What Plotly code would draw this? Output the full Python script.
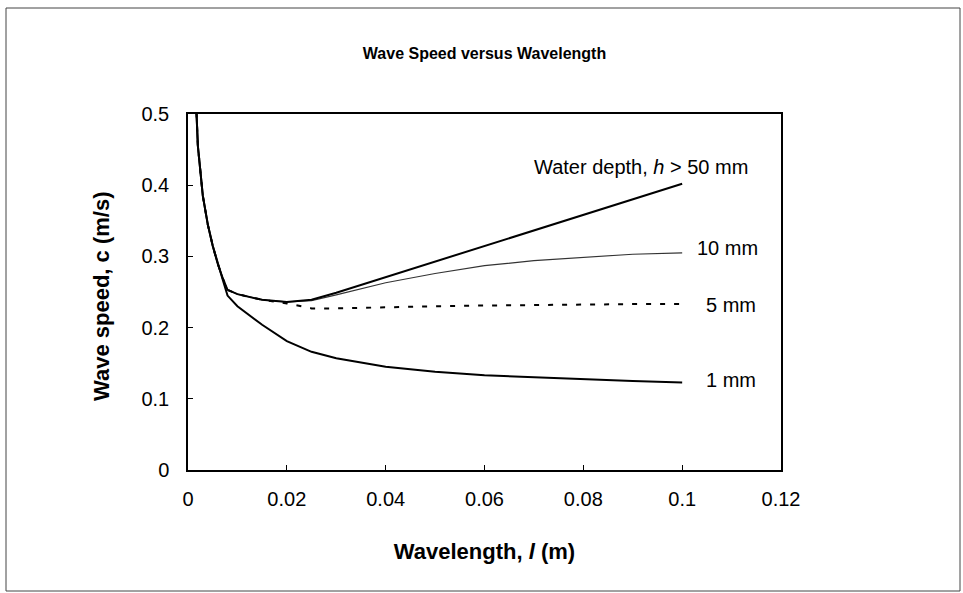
import plotly.graph_objects as go

# Wavelength (m) and wave speed (m/s) for each water depth
wavelength = [0.001, 0.002, 0.003, 0.004, 0.005, 0.006, 0.007, 0.008, 0.01,
              0.015, 0.02, 0.025, 0.03, 0.04, 0.05, 0.06, 0.07, 0.08, 0.09, 0.1]

speed_deep = [0.62, 0.455, 0.385, 0.345, 0.315, 0.290, 0.270, 0.253, 0.247,
              0.239, 0.236, 0.239, 0.249, 0.271, 0.293, 0.315, 0.337, 0.358, 0.380, 0.402]
speed_10mm = [0.62, 0.455, 0.385, 0.345, 0.315, 0.290, 0.270, 0.253, 0.247,
              0.239, 0.236, 0.238, 0.246, 0.263, 0.276, 0.287, 0.294, 0.299, 0.303, 0.305]
speed_5mm = [0.62, 0.455, 0.385, 0.345, 0.315, 0.290, 0.270, 0.253, 0.247,
             0.239, 0.234, 0.227, 0.227, 0.229, 0.230, 0.231, 0.232, 0.232, 0.233, 0.233]
speed_1mm = [0.62, 0.455, 0.385, 0.345, 0.315, 0.290, 0.268, 0.245, 0.230,
             0.204, 0.181, 0.166, 0.157, 0.145, 0.138, 0.133, 0.130, 0.127, 0.125, 0.123]

x_ticks = [0, 0.02, 0.04, 0.06, 0.08, 0.1, 0.12]
x_tick_text = ["0", "0.02", "0.04", "0.06", "0.08", "0.1", "0.12"]
y_ticks = [0, 0.1, 0.2, 0.3, 0.4, 0.5]
y_tick_text = ["0", "0.1", "0.2", "0.3", "0.4", "0.5"]

depth_labels = ["Water depth, <i>h</i> > 50 mm", "10 mm", "5 mm", "1 mm"]

FONT = "Liberation Sans, Arial, sans-serif"

# Plot area in pixels: left 188, right 781, top 114, bottom 470
L, R, T, B = 188, 781, 114, 470


def px_x(p):
    return (p - L) / (R - L)


def px_y(p):
    return (B - p) / (B - T)


fig = go.Figure()
fig.add_trace(go.Scatter(x=wavelength, y=speed_1mm, mode="lines",
                         line=dict(color="black", width=2), name="1 mm"))
fig.add_trace(go.Scatter(x=wavelength, y=speed_5mm, mode="lines",
                         line=dict(color="black", width=2, dash="5px,9px"), name="5 mm"))
fig.add_trace(go.Scatter(x=wavelength, y=speed_10mm, mode="lines",
                         line=dict(color="#333333", width=1.2), name="10 mm"))
fig.add_trace(go.Scatter(x=wavelength, y=speed_deep, mode="lines",
                         line=dict(color="black", width=2), name="h > 50 mm"))

# Depth labels, right-aligned beyond the end of each curve
label_x = [0.1137, 0.1157, 0.1153, 0.1153]
label_y = [0.425, 0.312, 0.232, 0.126]
for text, lx, ly in zip(depth_labels, label_x, label_y):
    fig.add_annotation(x=lx, y=ly, text=text, showarrow=False,
                       xanchor="right", yanchor="middle",
                       font=dict(family=FONT, size=20, color="black"))

# Vertical axis title
fig.add_annotation(xref="paper", yref="paper", x=px_x(101), y=px_y(297),
                   text="<b>Wave speed, c (m/s)</b>", textangle=-90,
                   showarrow=False, xanchor="center", yanchor="middle",
                   font=dict(family=FONT, size=22, color="black"))

# Outer chart frame
fig.add_shape(type="rect", xref="paper", yref="paper",
              x0=px_x(6), x1=px_x(960), y0=px_y(591), y1=px_y(8),
              line=dict(color="#444444", width=1), layer="below")

fig.update_layout(
    width=963, height=593,
    margin=dict(l=L, r=963 - R, t=T, b=593 - B),
    paper_bgcolor="white", plot_bgcolor="white",
    showlegend=False,
    title=dict(text="<b>Wave Speed versus Wavelength</b>", x=0.5, xref="paper",
               y=(593 - 53) / 593, yanchor="middle",
               font=dict(family=FONT, size=16, color="black")),
    font=dict(family=FONT, color="black"),
)

fig.update_xaxes(range=[0, 0.12], tickvals=x_ticks, ticktext=x_tick_text,
                 showgrid=False, zeroline=False,
                 showline=True, linecolor="black", linewidth=1.5, mirror=True,
                 ticks="inside", ticklen=5, tickcolor="black",
                 ticklabelstandoff=10,
                 tickfont=dict(family=FONT, size=20, color="black"),
                 title=dict(text="<b>Wavelength, <i>l</i> (m)</b>", standoff=35,
                            font=dict(family=FONT, size=22, color="black")))
fig.update_yaxes(range=[0, 0.5], tickvals=y_ticks, ticktext=y_tick_text,
                 showgrid=False, zeroline=False,
                 showline=True, linecolor="black", linewidth=1.5, mirror=True,
                 ticks="inside", ticklen=5, tickcolor="black",
                 ticklabelstandoff=13,
                 tickfont=dict(family=FONT, size=20, color="black"))

fig.write_html("out.html")
